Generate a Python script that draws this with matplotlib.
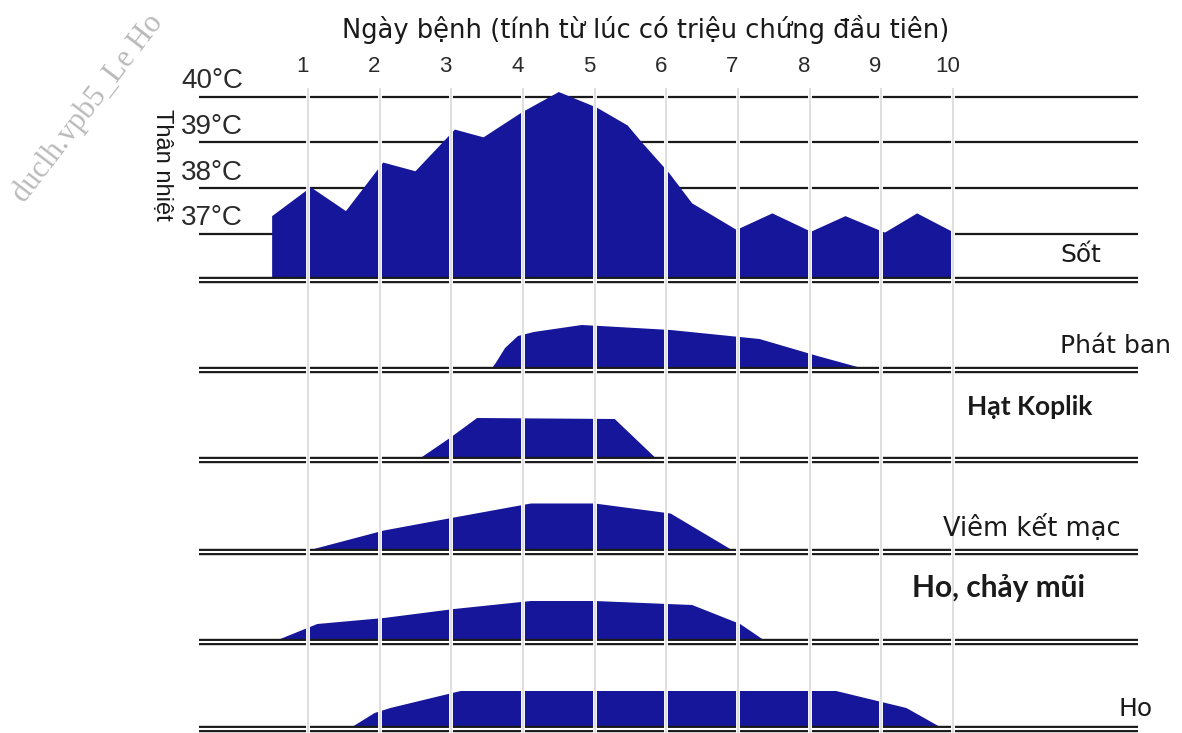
import matplotlib.pyplot as plt
from matplotlib.patches import Rectangle

W, H = 1182, 733

# Dữ liệu
ngay = list(range(1, 11))
nhiet_do = [40, 39, 38, 37]

sot_ngay = [0.5, 0.5, 1.04, 1.53, 2.05, 2.5, 3.05, 3.45, 3.98, 4.5, 5.03, 5.46,
            5.67, 6.04, 6.36, 6.98, 7.48, 8.02, 8.5, 9.05, 9.5, 9.99, 9.99]
sot_nhiet = [36.0, 37.39, 38.02, 37.5, 38.56, 38.37, 39.28, 39.11, 39.65, 40.1, 39.76, 39.37,
             38.98, 38.33, 37.67, 37.09, 37.45, 37.05, 37.39, 37.03, 37.45, 37.05, 36.0]

phatban_ngay = [3.55, 3.62, 3.75, 3.93, 4.15, 4.82, 5.08, 6.06, 7.3, 8.11, 8.82]
phatban_muc = [0, 0.14, 0.44, 0.68, 0.76, 0.9, 0.88, 0.8, 0.62, 0.28, 0]

koplik_ngay = [2.53, 2.98, 3.36, 5.28, 5.88]
koplik_muc = [0, 0.44, 0.84, 0.82, 0]

viem_ngay = [0.95, 2.06, 3.04, 4.11, 5.0, 6.06, 6.95]
viem_muc = [0, 0.42, 0.68, 0.96, 0.96, 0.76, 0]

chaymui_ngay = [0.51, 1.13, 2.06, 3.04, 4.11, 5.0, 6.36, 7.03, 7.4]
chaymui_muc = [0, 0.36, 0.48, 0.66, 0.82, 0.82, 0.74, 0.36, 0]

ho_ngay = [1.57, 1.93, 2.15, 3.13, 8.37, 9.35, 9.87]
ho_muc = [0, 0.32, 0.42, 0.76, 0.76, 0.42, 0]

XANH = '#16169a'
DEN = '#1a1a1a'

# vị trí ngày 0 (px) và số px cho 1 ngày
X0, DX = 236.3, 71.67
XLIM = (-X0 / DX, (W - X0) / DX)
DAU, CUOI = -0.52, 12.58   # đầu/cuối các đường ngang


fig = plt.figure(figsize=(W / 100, H / 100), dpi=100)


def khung(tren, duoi, goc_px, ti_le, goc=0.0):
    ax = fig.add_axes([0, 1 - duoi / H, 1, (duoi - tren) / H])
    ax.set_xlim(XLIM)
    ax.set_ylim(goc - (duoi - goc_px) / ti_le, goc + (goc_px - tren) / ti_le)
    ax.axis('off')
    return ax


def duong_doi(ax, y):
    ax.plot([DAU, CUOI], [y, y], color=DEN, lw=4.6, solid_capstyle='butt', zorder=3)
    ax.plot([DAU, CUOI], [y, y], color='white', lw=1.5, solid_capstyle='butt', zorder=4)


# Sốt
ax = khung(85, 292, 279.8, 45.8, 36.0)
ax.hlines(nhiet_do, DAU, CUOI, color=DEN, lw=1.6, zorder=1)
ax.fill(sot_ngay, sot_nhiet, color=XANH, lw=0, zorder=2)
duong_doi(ax, 36.0)
for t in nhiet_do:
    ax.text(-0.77, t + 0.34, f'{t}°C', fontsize=20,
            family='Liberation Sans', color='#2a2a2a', ha='left', va='center')

# các triệu chứng khác
cac_khung = [
    (300, 380, 370.0, phatban_ngay, phatban_muc),
    (390, 470, 460.0, koplik_ngay, koplik_muc),
    (480, 560, 551.5, viem_ngay, viem_muc),
    (565, 650, 642.0, chaymui_ngay, chaymui_muc),
    (655, 733, 729.0, ho_ngay, ho_muc),
]
for tren, duoi, goc_px, xs, ys in cac_khung:
    ax = khung(tren, duoi, goc_px, 50)
    ax.fill(xs, ys, color=XANH, lw=0, zorder=2)
    duong_doi(ax, 0)

# lưới dọc + ô trắng che chữ cũ
ov = fig.add_axes([0, 0, 1, 1])
ov.set_xlim(XLIM)
ov.set_ylim(H, 0)
ov.axis('off')
ov.vlines(ngay, 88, H, color='white', lw=2.8)
ov.vlines(ngay, 88, H, color='#d6d6d6', lw=1.1)
ov.add_patch(Rectangle((8.84, 503), 3.9, 44, color='white', lw=0))
ov.add_patch(Rectangle((9.5, 557), 3.3, 80, color='white', lw=0))
ov.add_patch(Rectangle((8.84, 600), 3.9, 37, color='white', lw=0))

for d in ngay:
    ov.text(d - 0.08, 67, str(d), fontsize=16, family='Liberation Sans',
            color='#2a2a2a', ha='center', va='center')

fig.text(646 / W, 1 - 30 / H, 'Ngày bệnh (tính từ lúc có triệu chứng đầu tiên)',
         fontsize=18.5, family='DejaVu Sans', color=DEN, ha='center', va='center')
fig.text(162 / W, 1 - 165 / H, 'Thân nhiệt', rotation=270, fontsize=17,
         family='Liberation Sans', color=DEN, ha='center', va='center')

nhan = [
    ('Sốt', 1081, 255, 'normal', 18),
    ('Phát ban', 1115, 346, 'normal', 18),
    ('Hạt Koplik', 1030, 407, 'bold', 19),
    ('Viêm kết mạc', 1032, 528, 'normal', 18.5),
    ('Ho, chảy mũi', 999, 588, 'bold', 21.5),
    ('Ho', 1136, 709, 'normal', 18),
]
for chu, x, y, dam, co in nhan:
    fig.text(x / W, 1 - y / H, chu, fontsize=co, color=DEN, ha='center', va='center',
             family='Lato' if dam == 'bold' else 'DejaVu Sans', fontweight=dam)

fig.text(24 / W, 1 - 204 / H, 'duclh.vpb5_Le Ho', rotation=52.5, rotation_mode='anchor',
         fontsize=22, family='Liberation Serif', color='#bababa', ha='left', va='baseline')

fig.savefig('out.png', dpi=100)
